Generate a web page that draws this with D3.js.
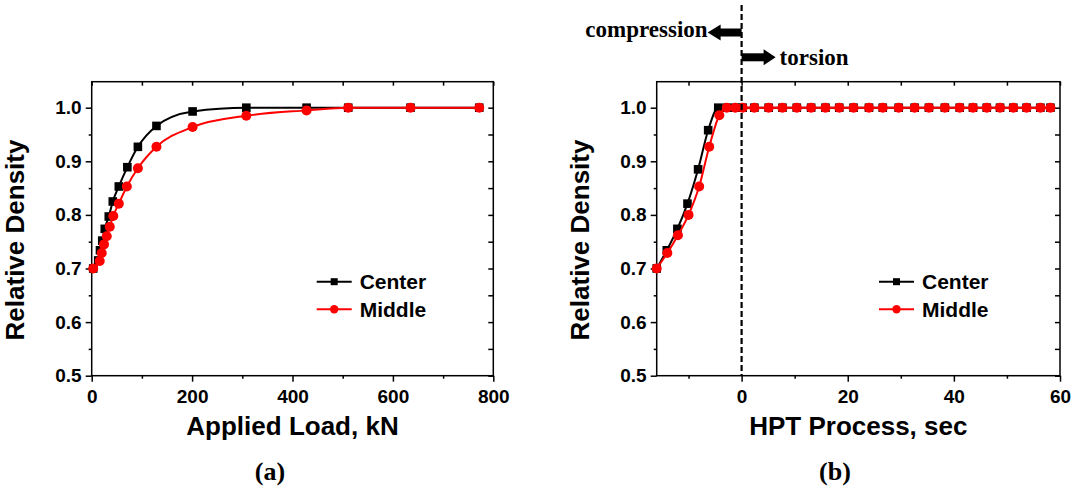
<!DOCTYPE html>
<html><head><meta charset="utf-8">
<script src="https://cdn.jsdelivr.net/npm/d3@7/dist/d3.min.js"></script>
<style>
body{margin:0;background:#fff;}
svg{display:block;}
.tk{font-family:"Liberation Sans",Arial,sans-serif;font-weight:bold;font-size:19px;fill:#000;}
.ttl{font-family:"Liberation Sans",Arial,sans-serif;font-weight:bold;font-size:26px;fill:#000;}
.lg{font-family:"Liberation Sans",Arial,sans-serif;font-weight:bold;font-size:21px;fill:#000;}
.serif{font-family:"Liberation Serif","Times New Roman",serif;font-weight:bold;fill:#000;}
</style></head>
<body><svg id="c" width="1074" height="493"></svg>
<script>
// ---- data ----
const loadCenter    = [3, 13, 16.5, 21, 26, 34, 42, 54, 71, 92, 129, 201, 308, 428, 511, 635, 772];
const densLoadCenter= [0.700, 0.715, 0.734, 0.752, 0.774, 0.797, 0.825, 0.853, 0.889, 0.927, 0.966, 0.993, 1.0, 1.0, 1.0, 1.0, 1.0];
const loadMiddle    = [3, 16, 20, 24.5, 30, 36, 43, 54, 70, 92, 129, 201, 308, 428, 511, 635, 772];
const densLoadMiddle= [0.700, 0.714, 0.729, 0.745, 0.760, 0.778, 0.798, 0.821, 0.853, 0.887, 0.927, 0.964, 0.985, 0.995, 1.0, 1.0, 1.0];

const timeCenter    = [-16, -14.1, -12.1, -10.2, -8.2, -6.3, -4.4, -2.8, -1.2, 0.2, 2.4, 5.1, 7.7, 10.4, 13.1, 15.8, 18.4, 21.1, 24.0, 26.6, 29.6, 32.6, 35.3, 38.3, 41.1, 43.6, 46.2, 48.7, 51.2, 53.7, 56.3, 58.2];
const densTimeCenter= [0.700, 0.734, 0.774, 0.821, 0.885, 0.958, 1.0, 1.0, 1.0, 1.0, 1.0, 1.0, 1.0, 1.0, 1.0, 1.0, 1.0, 1.0, 1.0, 1.0, 1.0, 1.0, 1.0, 1.0, 1.0, 1.0, 1.0, 1.0, 1.0, 1.0, 1.0, 1.0];
const timeMiddle    = [-16, -14, -12, -10, -8, -6.1, -4.2, -2.8, -1.2, 0.2, 2.4, 5.1, 7.7, 10.4, 13.1, 15.8, 18.4, 21.1, 24.0, 26.6, 29.6, 32.6, 35.3, 38.3, 41.1, 43.6, 46.2, 48.7, 51.2, 53.7, 56.3, 58.2];
const densTimeMiddle= [0.700, 0.729, 0.762, 0.800, 0.853, 0.927, 0.986, 1.0, 1.0, 1.0, 1.0, 1.0, 1.0, 1.0, 1.0, 1.0, 1.0, 1.0, 1.0, 1.0, 1.0, 1.0, 1.0, 1.0, 1.0, 1.0, 1.0, 1.0, 1.0, 1.0, 1.0, 1.0];

const yTicks = [0.5, 0.6, 0.7, 0.8, 0.9, 1.0];
const yMinor = [0.55, 0.65, 0.75, 0.85, 0.95];
const xTicksA = [0, 200, 400, 600, 800];
const xMinorA = [100, 300, 500, 700];
const xTicksB = [0, 20, 40, 60];
const xMinorB = [-10, 10, 30, 50];
const seriesNames = ["Center", "Middle"];
const seriesColors = ["#000000", "#ff0000"];

const svg = d3.select("#c");
const plotTop = 81.7, plotBottom = 375.7;

function panel(opt){
  const x = d3.scaleLinear().domain(opt.xdom).range([opt.x0, opt.x1]);
  const y = d3.scaleLinear().domain([0.5, 1.0485]).range([plotBottom, plotTop]);
  const g = svg.append("g");
  g.append("rect").attr("x", opt.x0).attr("y", plotTop).attr("width", opt.x1-opt.x0).attr("height", plotBottom-plotTop)
    .attr("fill","none").attr("stroke","#000").attr("stroke-width",1.5);
  const xa = g.append("g").attr("transform",`translate(0,${plotBottom})`)
    .call(d3.axisBottom(x).tickValues(opt.xt).tickSize(6).tickSizeOuter(0).tickPadding(4).tickFormat(d3.format("d")));
  xa.select(".domain").remove();
  xa.selectAll("text").attr("class","tk").attr("dy","0.92em");
  xa.selectAll("line").attr("stroke-width",1.5);
  g.append("g").attr("transform",`translate(0,${plotBottom})`)
    .call(d3.axisBottom(x).tickValues(opt.xm).tickSize(3).tickFormat("")).call(s=>s.select(".domain").remove())
    .selectAll("line").attr("stroke-width",1.5);
  g.append("g").attr("transform",`translate(0,${plotTop})`)
    .call(d3.axisBottom(x).tickValues(opt.xt.concat(opt.xm)).tickSize(4).tickFormat("")).call(s=>s.select(".domain").remove())
    .selectAll("line").attr("stroke-width",1.5);
  const ya = g.append("g").attr("transform",`translate(${opt.x0},0)`)
    .call(d3.axisLeft(y).tickValues(yTicks).tickSize(6).tickSizeOuter(0).tickPadding(4).tickFormat(d3.format(".1f")));
  ya.select(".domain").remove();
  ya.selectAll("text").attr("class","tk");
  ya.selectAll("line").attr("stroke-width",1.5);
  g.append("g").attr("transform",`translate(${opt.x0},0)`)
    .call(d3.axisLeft(y).tickValues(yMinor).tickSize(3).tickFormat("")).call(s=>s.select(".domain").remove())
    .selectAll("line").attr("stroke-width",1.5);
  g.append("g").attr("transform",`translate(${opt.x1},0)`)
    .call(d3.axisRight(y).tickValues(yTicks.concat(yMinor)).tickSize(-5).tickFormat("")).call(s=>s.select(".domain").remove())
    .selectAll("line").attr("stroke-width",1.5);
  g.append("text").attr("class","ttl").attr("x",(opt.x0+opt.x1)/2).attr("y",435).attr("text-anchor","middle").text(opt.xtitle);
  g.append("text").attr("class","ttl").attr("transform",`translate(${opt.x0-68},240) rotate(-90)`).attr("text-anchor","middle").text("Relative Density");
  g.append("text").attr("class","serif").style("font-size","26px").attr("x",opt.panelX).attr("y",480).attr("text-anchor","middle").text(opt.panelLabel);

  const inner = g.append("g");
  if (opt.extra) opt.extra(inner, x, y);
  const series = [
    {xs: opt.xc, ys: opt.yc, color: seriesColors[0], shape: "sq"},
    {xs: opt.xmid, ys: opt.ymid, color: seriesColors[1], shape: "ci"}
  ];
  const line = d3.line().x(d=>x(d[0])).y(d=>y(d[1])).curve(d3.curveMonotoneX);
  series.forEach(s=>{
    const pts = s.xs.map((v,i)=>[v, s.ys[i]]);
    inner.append("path").attr("d", line(pts)).attr("fill","none").attr("stroke", s.color).attr("stroke-width",2);
    if (s.shape==="sq"){
      inner.selectAll(null).data(pts).enter().append("rect")
        .attr("x",d=>x(d[0])-4.3).attr("y",d=>y(d[1])-4.3).attr("width",8.6).attr("height",8.6).attr("fill",s.color);
    } else {
      inner.selectAll(null).data(pts).enter().append("circle")
        .attr("cx",d=>x(d[0])).attr("cy",d=>y(d[1])).attr("r",5).attr("fill",s.color);
    }
  });
  const lg = g.append("g").attr("transform",`translate(${opt.legX},0)`);
  [0,1].forEach(i=>{
    const yy = i===0 ? 281.7 : 309.3;
    lg.append("line").attr("x1",0).attr("x2",35).attr("y1",yy).attr("y2",yy).attr("stroke",seriesColors[i]).attr("stroke-width",2);
    if (i===0) lg.append("rect").attr("x",14).attr("y",yy-3.5).attr("width",7).attr("height",7).attr("fill",seriesColors[i]);
    else lg.append("circle").attr("cx",17.5).attr("cy",yy).attr("r",4.2).attr("fill",seriesColors[i]);
    lg.append("text").attr("class","lg").attr("x",43).attr("y",yy+7.5).text(seriesNames[i]);
  });
}

panel({x0:91.7, x1:493.3, xdom:[0,800], xt:xTicksA, xm:xMinorA, xtitle:"Applied Load, kN",
  panelLabel:"(a)", panelX:270, legX:316.7,
  xc:loadCenter, yc:densLoadCenter, xmid:loadMiddle, ymid:densLoadMiddle});

panel({x0:656.7, x1:1060, xdom:[-16,60], xt:xTicksB, xm:xMinorB, xtitle:"HPT Process, sec",
  panelLabel:"(b)", panelX:835, legX:879,
  xc:timeCenter, yc:densTimeCenter, xmid:timeMiddle, ymid:densTimeMiddle,
  extra:(g,x,y)=>{
    const x0 = x(0);
    svg.append("line").attr("x1",x0).attr("x2",x0).attr("y1",5).attr("y2",plotBottom)
      .attr("stroke","#000").attr("stroke-width",2.2).attr("stroke-dasharray","6,3");
    svg.append("rect").attr("x",x0-22).attr("y",28.5).attr("width",22).attr("height",8).attr("fill","#000");
    svg.append("polygon").attr("points",`${x0-34},32.5 ${x0-21},24.5 ${x0-21},40.5`).attr("fill","#000");
    svg.append("text").attr("class","serif").style("font-size","23px").attr("x",x0-34).attr("y",37).attr("text-anchor","end").text("compression");
    svg.append("rect").attr("x",x0).attr("y",53.3).attr("width",23).attr("height",8).attr("fill","#000");
    svg.append("polygon").attr("points",`${x0+34},57.3 ${x0+22},49.3 ${x0+22},65.3`).attr("fill","#000");
    svg.append("text").attr("class","serif").style("font-size","23px").attr("x",x0+38).attr("y",65).text("torsion");
  }});
</script></body></html>
